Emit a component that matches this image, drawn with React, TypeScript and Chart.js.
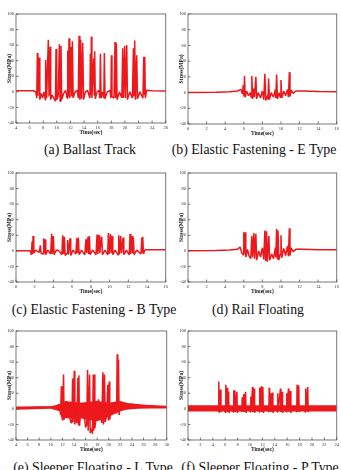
import React, { useEffect, useRef } from "react";
import { Chart, registerables } from "chart.js";
Chart.register(...registerables);

type Pt = [number, number];

const stressTicks = [-40, -20, 0, 20, 40, 60, 80, 100];

// (a) Ballast Track
const aSignal: Pt[] = [
  [4, 1.5], [6.5, 1.5], [6.9, 0], [7.05, -8], [7.14, 50], [7.22, -5], [7.38, 44], [7.5, -10], [7.7, -2], [7.9, -8],
  [8.1, 0], [8.3, -10], [8.36, 41], [8.5, -8], [8.75, 67], [8.85, -6], [9.0, 58], [9.1, -10], [9.3, -4], [9.6, -9],
  [9.8, -12], [9.88, 55], [9.98, -10], [10.2, -5], [10.37, 61], [10.47, -12], [10.61, 59], [10.72, -10], [11.0, -2],
  [11.3, 2], [11.5, -8], [11.6, 53], [11.7, -6], [11.79, 69], [11.9, -8], [12.08, 58], [12.18, -6], [12.28, 65],
  [12.4, -8], [12.7, 0], [13.0, 2], [13.15, -8], [13.26, 72], [13.38, -10], [13.5, 67], [13.62, -9], [13.8, 63],
  [13.92, -10], [14.2, 0], [14.5, 2], [14.85, -8], [14.93, 49], [15.0, -4], [15.07, 71], [15.15, -8], [15.42, 43],
  [15.5, -4], [15.56, 52], [15.65, -9], [15.9, 0], [16.2, 2], [16.32, -8], [16.4, 49], [16.5, -8], [16.7, 0],
  [16.9, -8], [16.98, 50], [17.08, -9], [17.4, 0], [17.8, 2], [17.95, -8], [18.01, 47], [18.1, -6], [18.4, -8],
  [18.55, 64], [18.65, -8], [18.75, 62], [18.85, -10], [19.2, 0], [19.55, -8], [19.68, 56], [19.78, -8], [19.97, 59],
  [20.07, -8], [20.27, 60], [20.37, -10], [20.7, 0], [21.1, -8], [21.25, 56], [21.33, -6], [21.44, 66], [21.55, -10],
  [21.74, 47], [21.84, -9], [22.2, 0], [22.65, -8], [22.77, 45], [22.84, -3], [22.92, 45], [23.0, -8], [23.2, 2],
  [24, 1.5], [26, 1],
];

// (b) Elastic Fastening - E Type
const bSignal: Pt[] = [
  [0, 0], [3, 0.5], [4.5, 1], [5.3, 2], [5.7, 4], [5.85, -2], [5.95, 10], [6.02, -5], [6.08, 21], [6.15, -6],
  [6.3, 2], [6.5, -4], [6.7, 0], [6.8, -6], [6.87, 21], [6.95, -8], [7.05, 5], [7.15, -6], [7.3, 20], [7.38, -8],
  [7.55, 0], [7.8, -7], [8.0, 2], [8.15, -9], [8.27, 24], [8.36, -10], [8.5, -4], [8.6, -9], [8.67, 18], [8.76, -9],
  [8.95, 0], [9.2, -6], [9.4, 4], [9.45, -7], [9.53, 23], [9.62, -8], [9.8, 0], [9.92, -6], [10.0, 16], [10.08, -7],
  [10.3, 2], [10.5, -4], [10.7, 4], [10.8, -6], [10.9, 26], [10.97, -5], [11.1, 3], [11.3, -1], [11.6, 2],
  [12.5, 2], [14, 1.5], [16, 1],
];

// (c) Elastic Fastening - B Type
const cSignal: Pt[] = [
  [0, 0], [1.5, 0], [1.65, -5], [1.72, 12], [1.78, -4], [1.82, 19], [1.9, -3], [2.1, 1], [2.5, -2], [2.6, 7],
  [2.68, -3], [2.9, -4], [2.96, 16], [3.02, -3], [3.1, 15], [3.18, -5], [3.4, 1], [3.7, -4], [3.81, 22], [3.88, -4],
  [3.99, 19], [4.07, -5], [4.3, 1], [4.6, 0], [4.9, -5], [4.99, 20], [5.07, -4], [5.17, 18], [5.25, -6], [5.45, -3],
  [5.52, 14], [5.6, -5], [5.77, 16], [5.85, -6], [6.1, 1], [6.4, -4], [6.49, 16], [6.57, -3], [6.66, 17], [6.75, -5],
  [7.0, 1], [7.35, -5], [7.48, 15], [7.56, -3], [7.7, 18], [7.77, -4], [7.84, 19], [7.92, -5], [8.2, 1], [8.55, -5],
  [8.66, 21], [8.74, -4], [8.87, 20], [8.95, -3], [9.16, 18], [9.24, -5], [9.5, 1], [9.8, -5], [9.87, 23],
  [9.95, -4], [10.09, 22], [10.17, -3], [10.26, 19], [10.34, -5], [10.6, 1], [10.9, -5], [10.98, 20], [11.06, -4],
  [11.19, 19], [11.27, -3], [11.44, 17], [11.52, -5], [11.8, 1], [12.1, -5], [12.19, 22], [12.27, -4], [12.4, 19],
  [12.47, -3], [12.54, 17], [12.62, -5], [12.9, 1], [13.35, -4], [13.44, 17], [13.49, -2], [13.54, 18], [13.62, -4],
  [13.8, 1.5], [16, 1.5],
];

// (d) Rail Floating
const dSignal: Pt[] = [
  [0, 0], [3, 0.5], [4.5, 1], [5.3, 2], [5.6, 5], [5.8, -3], [5.95, -5], [6.0, 24], [6.07, -3], [6.15, 24],
  [6.22, -8], [6.4, 2], [6.55, -6], [6.75, -10], [6.87, 19], [6.95, -8], [7.09, 23], [7.16, -10], [7.3, 22],
  [7.38, -12], [7.6, 0], [7.8, -8], [8.0, 4], [8.15, -11], [8.27, 26], [8.35, -13], [8.45, 25], [8.53, -14],
  [8.7, 19], [8.78, -12], [9.0, -4], [9.2, -10], [9.4, 4], [9.45, -8], [9.53, 28], [9.6, -10], [9.68, 26],
  [9.76, -12], [9.9, -5], [10.0, 20], [10.08, -9], [10.3, 3], [10.5, -6], [10.7, 6], [10.8, -7], [10.9, 29],
  [10.97, -6], [11.1, 4], [11.3, -1], [11.6, 2], [12.5, 2], [14, 1.5], [16, 1.5],
];

// (e) Sleeper Floating - L Type
const eSignal: Pt[] = [
  [4, 1], [6, 1.5], [8, 2], [10, 2], [11, 3], [11.4, 6], [11.6, 0], [11.7, -8], [11.81, 29], [11.9, -10],
  [12.05, -15], [12.2, 44], [12.3, -14], [12.5, 5], [12.8, 8], [13.0, -5], [13.3, -12], [13.5, -18], [13.65, -15],
  [13.76, 39], [13.85, -17], [14.05, 49], [14.15, -20], [14.3, -10], [14.5, -18], [14.68, 40], [14.76, -20],
  [14.85, 43], [14.95, -22], [15.2, 0], [15.5, 4], [15.8, -10], [16.0, -24], [16.2, -20], [16.34, 50], [16.45, -28],
  [16.69, 44], [16.8, -31], [17.0, -25], [17.2, -32], [17.32, 44], [17.4, -28], [17.49, 44], [17.6, -25],
  [17.9, -5], [18.2, 12], [18.4, 5], [18.6, -10], [18.8, -18], [18.98, 47], [19.08, -20], [19.27, 44], [19.37, -17],
  [19.6, -10], [19.84, 31], [19.93, -15], [20.07, 35], [20.17, -14], [20.4, 0], [20.7, 6], [21.0, -2], [21.2, 5],
  [21.35, -6], [21.45, 70], [21.55, -4], [21.68, 63], [21.78, -8], [22.0, 8], [22.3, -2], [22.6, 8], [23, 2],
  [24, 6], [26, 4], [28, 3], [30, 2],
];
const eNoiseTop: Pt[] = [
  [4, 3], [10, 3.5], [11.5, 6], [12.5, 10], [15, 8], [18, 10], [20, 8], [22, 10], [23, 8], [25, 6], [27, 5], [30, 4],
];
const eNoiseBottom: Pt[] = [
  [4, -1], [10, 0], [11.5, -3], [12.5, -12], [15, -12], [18, -16], [20, -10], [22, -3], [23, -1], [25, 0], [27, 0.5], [30, 0.5],
];

// (f) Sleeper Floating - P Type
const fSignal: Pt[] = [
  [0, 1], [4.9, 1], [4.95, -4], [4.99, 35], [5.05, -5], [5.26, 25], [5.32, -4], [5.6, 2], [6.0, -4], [6.07, 31],
  [6.13, -5], [6.33, 27], [6.4, -4], [6.55, 22], [6.62, -5], [7.0, 2], [7.3, -4], [7.35, 24], [7.42, -4], [7.57, 24],
  [7.64, -4], [7.89, 22], [7.96, -5], [8.3, 2], [8.7, -4], [8.75, 15], [8.82, -3], [9.02, 19], [9.08, -4], [9.29, 22],
  [9.36, -5], [9.7, 2], [10.1, -4], [10.14, 16], [10.2, -3], [10.41, 28], [10.48, -4], [10.68, 26], [10.75, -5],
  [11.1, 2], [11.5, -4], [11.54, 27], [11.6, -3], [11.81, 29], [11.88, -4], [12.08, 28], [12.15, -5], [12.5, 2],
  [13.05, -4], [13.1, 27], [13.17, -3], [13.31, 20], [13.38, -4], [13.63, 21], [13.7, -5], [14.0, 2], [14.45, -4],
  [14.49, 20], [14.55, -3], [14.92, 26], [14.99, -4], [15.19, 22], [15.26, -5], [15.6, 2], [15.9, -4], [15.94, 20],
  [16.0, -3], [16.21, 26], [16.28, -4], [16.53, 23], [16.6, -5], [17.0, 2], [17.55, -4], [17.6, 31], [17.67, -3],
  [17.87, 30], [17.94, -4], [18.3, 2], [18.95, -4], [19.0, 26], [19.07, -3], [19.32, 28], [19.39, -4], [19.7, 1],
  [24, 1],
];
const fNoiseTop: Pt[] = [[0, 4.5], [24, 4.5]];
const fNoiseBottom: Pt[] = [[0, -3.5], [24, -3.5]];

const captions = [
  "(a) Ballast Track",
  "(b) Elastic Fastening - E Type",
  "(c) Elastic Fastening - B Type",
  "(d) Rail Floating",
  "(e) Sleeper Floating - L Type",
  "(f) Sleeper Floating - P Type",
];

const timeRanges: [number, number][] = [[4, 26], [0, 16], [0, 16], [0, 16], [4, 30], [0, 24]];

type Panel = {
  signal: Pt[];
  top?: Pt[];
  bottom?: Pt[];
  range: [number, number];
  rect: { l: number; t: number; r: number; b: number };
  cap: { x: number; y: number; text: string };
};

const panels: Panel[] = [
  { signal: aSignal, range: timeRanges[0], rect: { l: 16, t: 14, r: 166, b: 123 }, cap: { x: 90, y: 150, text: captions[0] } },
  { signal: bSignal, range: timeRanges[1], rect: { l: 188, t: 14, r: 337, b: 124 }, cap: { x: 254, y: 150, text: captions[1] } },
  { signal: cSignal, range: timeRanges[2], rect: { l: 16, t: 173, r: 166, b: 282 }, cap: { x: 94, y: 310, text: captions[2] } },
  { signal: dSignal, range: timeRanges[3], rect: { l: 188, t: 173, r: 337, b: 282 }, cap: { x: 258, y: 310, text: captions[3] } },
  { signal: eSignal, top: eNoiseTop, bottom: eNoiseBottom, range: timeRanges[4], rect: { l: 16, t: 331, r: 167, b: 440 }, cap: { x: 93, y: 468, text: captions[4] } },
  { signal: fSignal, top: fNoiseTop, bottom: fNoiseBottom, range: timeRanges[5], rect: { l: 188, t: 331, r: 337, b: 440 }, cap: { x: 260, y: 468, text: captions[5] } },
];

const RED = "rgb(236,24,28)";
const SERIF = "'Liberation Serif', 'DejaVu Serif', serif";

const framePlugin = {
  id: "frame",
  afterDatasetsDraw(chart: any) {
    const { ctx } = chart;
    const { left, right, top, bottom } = chart.chartArea;
    ctx.save();
    ctx.strokeStyle = "#555";
    ctx.lineWidth = 0.8;
    ctx.strokeRect(left, top, right - left, bottom - top);
    const xs = chart.scales.x;
    const ys = chart.scales.y;
    ctx.beginPath();
    xs.ticks.forEach((t: any) => {
      const p = xs.getPixelForValue(t.value);
      ctx.moveTo(p, bottom);
      ctx.lineTo(p, bottom - 2.5);
    });
    ys.ticks.forEach((t: any) => {
      const p = ys.getPixelForValue(t.value);
      ctx.moveTo(left, p);
      ctx.lineTo(left + 2.5, p);
    });
    ctx.stroke();
    ctx.restore();
  },
};

const toXY = (pts: Pt[]) => pts.map(([x, y]) => ({ x, y }));

function PanelChart({ p }: { p: Panel }) {
  const ref = useRef<HTMLCanvasElement>(null);
  const PL = 16, PT = 8, PR = 4, PB = 14;
  const w = p.rect.r - p.rect.l + PL + PR;
  const h = p.rect.b - p.rect.t + PT + PB;
  useEffect(() => {
    const datasets: any[] = [
      {
        data: toXY(p.signal),
        borderColor: RED,
        borderWidth: 1.5,
        borderJoinStyle: "bevel",
        pointRadius: 0,
        tension: 0,
        fill: false,
      },
    ];
    if (p.top && p.bottom) {
      datasets.push({
        data: toXY(p.top),
        borderWidth: 0,
        borderColor: RED,
        pointRadius: 0,
        backgroundColor: RED,
        fill: "+1",
      });
      datasets.push({
        data: toXY(p.bottom),
        borderWidth: 0,
        borderColor: RED,
        pointRadius: 0,
        fill: false,
      });
    }
    const chart = new Chart(ref.current!, {
      type: "line",
      data: { datasets },
      plugins: [framePlugin],
      options: {
        animation: false,
        responsive: false,
        devicePixelRatio: 1,
        layout: { padding: { top: PT, right: PR, left: 0, bottom: 0 } },
        plugins: { legend: { display: false }, tooltip: { enabled: false } },
        scales: {
          x: {
            type: "linear",
            min: p.range[0],
            max: p.range[1],
            grid: { display: false, drawTicks: false },
            border: { display: false },
            ticks: {
              stepSize: 2,
              padding: 2,
              maxRotation: 0,
              autoSkip: false,
              color: "#333",
              font: { family: SERIF, size: 4.5 },
            },
            title: {
              display: true,
              text: "Time(sec)",
              color: "#222",
              font: { family: SERIF, size: 5.5, weight: "bold" },
              padding: { top: 0, bottom: 1 },
            },
            afterFit: (s: any) => {
              s.height = PB;
            },
          },
          y: {
            min: -40,
            max: 100,
            grid: { display: false, drawTicks: false },
            border: { display: false },
            afterBuildTicks: (s: any) => {
              s.ticks = stressTicks.map((v) => ({ value: v }));
            },
            ticks: {
              padding: 2,
              color: "#333",
              font: { family: SERIF, size: 4.5 },
            },
            title: {
              display: true,
              text: "Stress(MPa)",
              color: "#222",
              font: { family: SERIF, size: 5.5, weight: "bold" },
              padding: { top: 6, bottom: 0 },
            },
            afterFit: (s: any) => {
              s.width = PL;
            },
          },
        },
      } as any,
    });
    return () => chart.destroy();
  }, []);
  return (
    <>
      <canvas
        ref={ref}
        width={w}
        height={h}
        style={{ position: "absolute", left: p.rect.l - PL, top: p.rect.t - PT, width: w, height: h }}
      />
      <div
        style={{
          position: "absolute",
          left: p.cap.x - 100,
          top: p.cap.y - 9,
          width: 200,
          textAlign: "center",
          fontFamily: SERIF,
          fontSize: 13.8,
          lineHeight: "18px",
          color: "#111",
          whiteSpace: "nowrap",
        }}
      >
        {p.cap.text}
      </div>
    </>
  );
}

export default function App() {
  return (
    <div style={{ position: "absolute", left: 0, top: 0, width: 341, height: 470, background: "#fff", overflow: "hidden" }}>
      {panels.map((p, i) => (
        <PanelChart key={i} p={p} />
      ))}
    </div>
  );
}
